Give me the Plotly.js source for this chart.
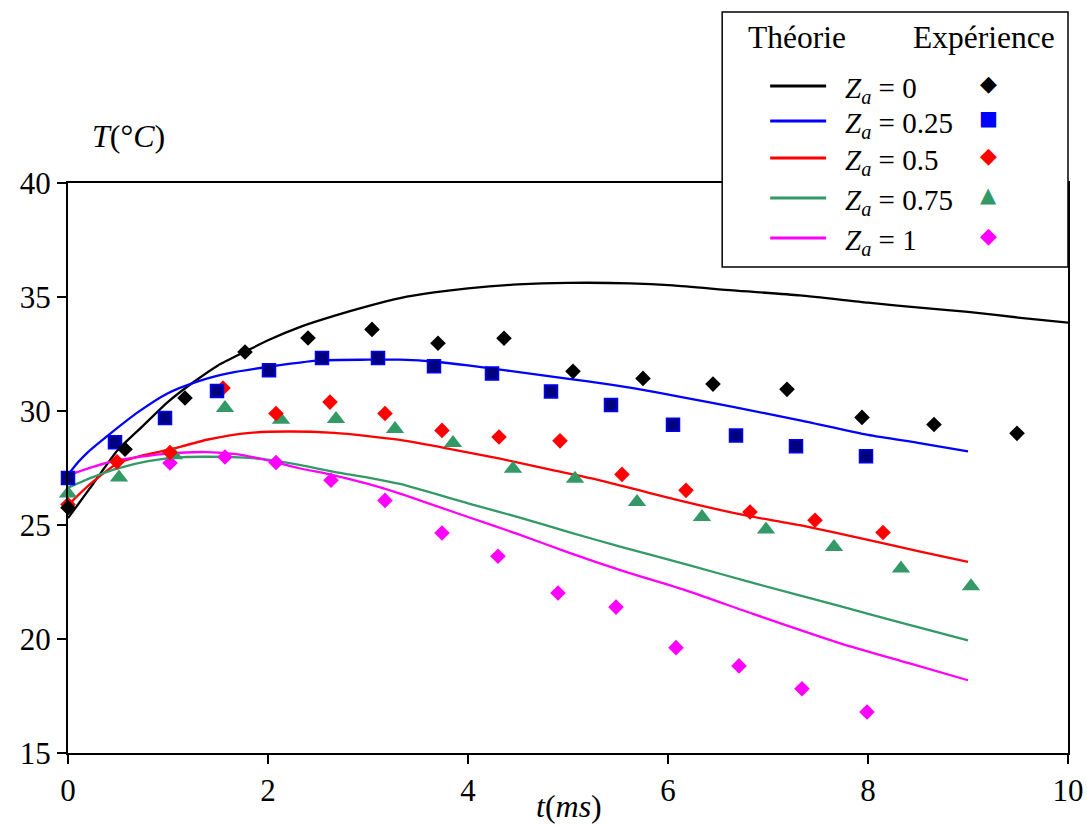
<!DOCTYPE html>
<html>
<head>
<meta charset="utf-8">
<script src="https://cdn.plot.ly/plotly-3.0.1.min.js"></script>
<style>html,body{margin:0;padding:0;background:#fff;}#chart{width:1087px;height:825px;}.modebar-container{display:none !important;}</style>
</head>
<body>
<div id="chart"></div>
<script>
// ---- Theory curves (t in ms, T in °C) ----
const thX0 = [0,0.1,0.25,0.5,0.75,1.0,1.25,1.5,1.77,2.0,2.33,2.66,3.0,3.32,3.66,4.0,4.5,5.0,5.62,6.05,6.65,7.32,8.0,8.6,9.0,9.5,10];
const thY0 = [25.3,25.9,26.8,28.3,29.35,30.4,31.25,32.0,32.6,33.1,33.7,34.17,34.6,34.95,35.2,35.38,35.55,35.62,35.6,35.51,35.29,35.07,34.75,34.5,34.35,34.1,33.88];

const thX025 = [0,0.1,0.2,0.42,0.7,0.99,1.3,1.6,1.99,2.52,3.0,3.32,3.7,4.0,4.75,5.2,5.65,6.15,6.65,7.32,8.0,8.5,9.0];
const thY025 = [27.2,27.75,28.2,29.0,29.95,30.76,31.3,31.65,31.93,32.22,32.25,32.25,32.15,32.0,31.56,31.3,31.0,30.6,30.18,29.59,28.95,28.6,28.23];

const thX05 = [0,0.1,0.25,0.49,0.75,0.99,1.4,1.82,2.2,2.66,3.0,3.32,3.8,4.32,4.8,5.32,5.8,6.32,6.8,7.32,8.0,8.5,9.0];
const thY05 = [25.86,26.3,26.9,27.69,28.05,28.28,28.75,29.04,29.1,29.04,28.9,28.73,28.35,27.91,27.45,26.96,26.42,25.86,25.4,24.99,24.35,23.85,23.38];

const thX075 = [0,0.25,0.49,0.8,1.15,1.65,1.99,2.3,2.66,3.0,3.32,4.0,4.5,5.0,5.53,6.2,6.85,7.73,8.3,9.0];
const thY075 = [26.64,27.1,27.47,27.8,27.98,27.98,27.87,27.65,27.33,27.08,26.8,25.95,25.35,24.7,24.04,23.25,22.46,21.43,20.75,19.94];

const thX1 = [0,0.25,0.49,0.99,1.39,1.7,1.99,2.3,2.66,3.0,3.32,4.0,4.5,5.0,5.53,6.2,6.85,7.73,8.4,9.0];
const thY1 = [27.18,27.55,27.84,28.13,28.2,28.1,27.84,27.5,27.18,26.8,26.38,25.35,24.6,23.8,23.01,22.1,21.1,19.8,18.95,18.19];

// ---- Experimental points ----
const exX0 = [0,0.57,1.17,1.77,2.40,3.04,3.70,4.36,5.05,5.75,6.45,7.19,7.94,8.66,9.49];
const exY0 = [25.76,28.32,30.57,32.59,33.2,33.58,32.97,33.19,31.74,31.43,31.18,30.95,29.72,29.41,29.02];

const exX025 = [0,0.47,0.97,1.49,2.01,2.54,3.10,3.66,4.24,4.83,5.43,6.05,6.68,7.28,7.98];
const exY025 = [27.06,28.63,29.69,30.88,31.79,32.32,32.32,31.96,31.64,30.86,30.26,29.40,28.92,28.45,28.01];

const exX05 = [0,0.49,1.02,1.55,2.08,2.62,3.17,3.74,4.31,4.92,5.54,6.18,6.82,7.47,8.15];
const exY05 = [25.9,27.77,28.18,31.01,29.89,30.39,29.89,29.15,28.86,28.69,27.22,26.52,25.57,25.21,24.67];

const exX075 = [0,0.51,1.06,1.57,2.13,2.68,3.27,3.85,4.45,5.07,5.69,6.34,6.98,7.66,8.33,9.03];
const exY075 = [26.38,27.08,28.06,30.13,29.62,29.65,29.21,28.6,27.47,27.03,26.01,25.35,24.8,24.04,23.09,22.31];

const exX1 = [1.02,1.57,2.08,2.63,3.17,3.74,4.30,4.90,5.48,6.08,6.71,7.34,7.99];
const exY1 = [27.72,27.98,27.74,26.96,26.08,24.65,23.63,22.02,21.40,19.62,18.82,17.82,16.8];

// ---- Labels ----
const legendLabels = ["<i>Z</i><sub><i>a</i></sub> = 0","<i>Z</i><sub><i>a</i></sub> = 0.25","<i>Z</i><sub><i>a</i></sub> = 0.5","<i>Z</i><sub><i>a</i></sub> = 0.75","<i>Z</i><sub><i>a</i></sub> = 1"];
const legendColors = ["#000000","#0000FF","#FF0000","#339966","#FF00FF"];
const legendGlyphs = ["\u25C6","\u25A0","\u25C6","\u25B2","\u25C6"];
const xTickVals = [0,2,4,6,8,10];
const yTickVals = [15,20,25,30,35,40];

function line(x,y,c){return {x:x,y:y,mode:'lines',type:'scatter',line:{color:c,width:2.3,shape:'spline',smoothing:0.6}};}
function pts(x,y,sym,c,size,lc,lw){return {x:x,y:y,mode:'markers',type:'scatter',cliponaxis:false,
  marker:{symbol:sym,color:c,size:size,line:{color:lc||c,width:lw||0}}};}

const data = [
  line(thX0,thY0,"#000000"),
  line(thX025,thY025,"#0000FF"),
  line(thX05,thY05,"#FF0000"),
  line(thX075,thY075,"#339966"),
  line(thX1,thY1,"#FF00FF"),
  pts(exX1,exY1,'diamond',"#FF00FF",12),
  pts(exX075,exY075,'triangle-up',"#339966",16),
  pts(exX05,exY05,'diamond',"#FF0000",12),
  pts(exX025,exY025,'square',"#000080",13,"#0000FF",1.5),
  pts(exX0,exY0,'diamond',"#000000",12)
];

// plot area in pixels
const L=67.5, R=1068, T=183, B=753;
function px(p){return (p-L)/(R-L);}
function py(p){return (B-p)/(B-T);}

const shapes = [
  {type:'rect',xref:'paper',yref:'paper',x0:px(722),x1:px(1068),y0:py(267),y1:py(12),
   fillcolor:'#ffffff',line:{color:'#000',width:1.5},layer:'above'}
];
const rowsY=[86,121,158,198,238];
const annotations = [
  {xref:'paper',yref:'paper',x:px(746),y:py(18),xanchor:'left',showarrow:false,
   text:'Théorie',font:{family:'Liberation Serif',size:31.5,color:'#000000'}},
  {xref:'paper',yref:'paper',x:px(911),y:py(18),xanchor:'left',showarrow:false,
   text:'Expérience',font:{family:'Liberation Serif',size:31.5,color:'#000000'}},
  {xref:'paper',yref:'paper',x:px(90),y:py(116),xanchor:'left',showarrow:false,
   text:'<i>T</i>(°<i>C</i>)',font:{family:'Liberation Serif',size:32,color:'#000000'}},
  {xref:'paper',yref:'paper',x:px(569),y:py(826),xanchor:'center',showarrow:false,
   text:'<i>t</i>(<i>ms</i>)',font:{family:'Liberation Serif',size:32,color:'#000000'}}
];
for(let i=0;i<5;i++){
  shapes.push({type:'line',xref:'paper',yref:'paper',x0:px(770),x1:px(826),y0:py(rowsY[i]),y1:py(rowsY[i]),
    line:{color:legendColors[i],width:3},layer:'above'});
  annotations.push({xref:'paper',yref:'paper',x:px(843),y:py(rowsY[i]-16),xanchor:'left',showarrow:false,
    text:legendLabels[i],font:{family:'Liberation Serif',size:29,color:'#000000'}});
  annotations.push({xref:'paper',yref:'paper',x:px(988),y:py(rowsY[i]-17),xanchor:'center',showarrow:false,
    text:legendGlyphs[i],font:{family:'DejaVu Sans',size:i===3?21:(i===1?20:22),color:legendColors[i]}});
}

const layout = {
  width:1087,height:825,
  margin:{l:L,r:1087-R,t:T,b:825-B,pad:0},
  showlegend:false,
  xaxis:{range:[0,10],tickvals:xTickVals,ticks:'outside',ticklen:9,tickwidth:1.5,tickcolor:'#000',
    showline:true,linecolor:'#000',linewidth:2,mirror:true,showgrid:false,zeroline:false,
    tickfont:{family:'Liberation Serif',size:31,color:'#000'}},
  yaxis:{range:[15,40],tickvals:yTickVals,ticks:'outside',ticklen:9,tickwidth:1.5,tickcolor:'#000',
    showline:true,linecolor:'#000',linewidth:2,mirror:true,showgrid:false,zeroline:false,
    tickfont:{family:'Liberation Serif',size:31,color:'#000'}},
  shapes:shapes,annotations:annotations
};
Plotly.newPlot('chart',data,layout);
</script>
</body>
</html>
